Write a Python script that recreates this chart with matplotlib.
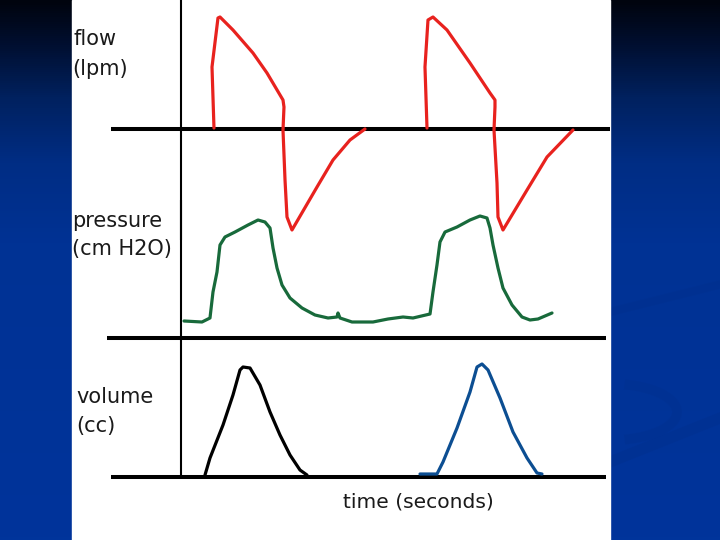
import numpy as np
import matplotlib
matplotlib.use("Agg")
import matplotlib.pyplot as plt
from matplotlib.colors import LinearSegmentedColormap
from matplotlib.patches import Rectangle

# ---------------- data (time in seconds, physical units) ----------------
flow1_t = [0.767, 0.721, 0.860, 0.907, 1.209, 1.674, 2.000, 2.372, 2.395,
           2.372, 2.419, 2.465, 2.581, 3.163, 3.535, 3.930, 4.279]
flow1_v = [0.5, 31, 55.5, 56, 49.5, 38, 28, 14.5, 11,
           -0.5, -25.5, -44, -50.5, -29, -15.5, -5.5, 0]

flow2_t = [5.721, 5.674, 5.744, 5.860, 6.186, 6.721, 7.186, 7.302, 7.302,
           7.279, 7.349, 7.372, 7.488, 8.047, 8.512, 9.116]
flow2_v = [0.5, 31, 54.5, 56, 49.5, 33, 18, 14.5, 11,
           -0.5, -27, -44, -50.5, -30.5, -14, -0.5]

press_t = [0.070, 0.488, 0.674, 0.744, 0.837, 0.907, 1.023, 1.256, 1.558, 1.791,
           1.953, 2.070, 2.140, 2.233, 2.349, 2.535, 2.814, 3.116, 3.419, 3.628,
           3.651, 3.698, 3.977, 4.465, 4.814, 5.163, 5.395, 5.791, 5.860, 5.953,
           6.023, 6.140, 6.419, 6.721, 6.953, 7.116, 7.186, 7.256, 7.372, 7.488,
           7.698, 7.930, 8.116, 8.302, 8.628]
press_v = [4.25, 4.0, 5.0, 11.5, 16.5, 23.25, 25.25, 26.5, 28.25, 29.5,
           29.0, 27.5, 22.5, 17.5, 13.25, 10.0, 7.5, 5.75, 5.0, 5.25,
           6.25, 5.0, 4.0, 4.0, 4.75, 5.25, 5.0, 6.0, 11.5, 18.25,
           24.0, 26.5, 27.75, 29.5, 30.5, 30.0, 27.5, 23.25, 17.5, 12.5,
           8.25, 5.25, 4.5, 4.75, 6.25]

vol1_t = [0.558, 0.674, 0.977, 1.209, 1.372, 1.442, 1.605, 1.837, 2.070,
          2.302, 2.535, 2.767, 2.930]
vol1_v = [10, 95, 260, 410, 535, 550, 545, 460, 325, 210, 110, 35, 10]

vol2_t = [5.558, 5.953, 6.093, 6.419, 6.721, 6.884, 7.000, 7.140, 7.419,
          7.721, 8.047, 8.279, 8.395]
vol2_v = [15, 15, 75, 245, 425, 550, 565, 535, 395, 225, 95, 20, 15]

labels = ["flow", "(lpm)", "pressure", "(cm H2O)", "volume", "(cc)"]
xlabel = "time (seconds)"

# ---------------- layout ----------------
W, H = 720, 540
T0_PX, PX_PER_S = 181, 43.0
AX_LEFT, AX_RIGHT = 107, 610

def t_of(px):
    return (px - T0_PX) / PX_PER_S

fig = plt.figure(figsize=(7.2, 5.4), dpi=100)

bg = fig.add_axes([0, 0, 1, 1], zorder=0)
grad = np.linspace(0, 1, 540).reshape(-1, 1)
cmap = LinearSegmentedColormap.from_list(
    "bg", [(0, "#00040e"), (0.08, "#000f30"), (0.18, "#00215f"),
           (0.3, "#002d84"), (0.45, "#003294"), (1, "#00349b")])
bg.imshow(grad, aspect="auto", cmap=cmap, extent=[0, 1, 0, 1], origin="upper")
# faint swooshes on right strip
sw = "#002f8a"
xs = np.linspace(610 / W, 1, 50)
bg.plot(xs, 1 - (312 - (xs - 610 / W) * W * 0.25) / H, color=sw, lw=6, alpha=0.35)
bg.plot(xs, 1 - (462 - (xs - 610 / W) * W * 0.4) / H, color=sw, lw=8, alpha=0.35)
th = np.linspace(-1.3, 1.3, 60)
bg.plot((612 + 65 * np.cos(th)) / W, 1 - (412 + 28 * np.sin(th)) / H,
        color=sw, lw=7, alpha=0.3)
bg.add_patch(Rectangle((72 / W, 0), (610 - 72) / W, 1, color="white", zorder=5))
bg.set_xlim(0, 1)
bg.set_ylim(0, 1)
bg.axis("off")


def make_ax(top_px, bottom_px, base_px, units_per_px):
    ax = fig.add_axes([AX_LEFT / W, 1 - bottom_px / H,
                       (AX_RIGHT - AX_LEFT) / W, (bottom_px - top_px) / H], zorder=2)
    ax.set_xlim(t_of(AX_LEFT), t_of(AX_RIGHT))
    ax.set_ylim((base_px - bottom_px) * units_per_px, (base_px - top_px) * units_per_px)
    ax.axis("off")
    ax.patch.set_alpha(0)
    return ax

ax_f = make_ax(0, 240, 129, 0.5)
ax_p = make_ax(200, 345, 338, 0.25)
ax_v = make_ax(345, 540, 477, 5.0)

LWB = 2.9
ax_f.axvline(0, color="black", lw=1.5)
ax_p.axvline(0, color="black", lw=1.5)
ax_v.axvline(0, ymin=(540 - 477) / 195, ymax=1, color="black", lw=1.5)
ax_f.hlines(0, t_of(111), t_of(610), color="black", lw=LWB)
ax_p.hlines(0, t_of(107), t_of(606), color="black", lw=LWB)
ax_v.hlines(0, t_of(111), t_of(606), color="black", lw=LWB)

kw = dict(lw=2.3, solid_joinstyle="round", solid_capstyle="round", clip_on=False, zorder=4)
ax_f.plot(flow1_t, flow1_v, color="#e8221e", **kw)
ax_f.plot(flow2_t, flow2_v, color="#e8221e", **kw)
ax_p.plot(press_t, press_v, color="#186a3b", **kw)
ax_v.plot(vol1_t, vol1_v, color="black", **kw)
ax_v.plot(vol2_t, vol2_v, color="#0c4e92", **kw)

txt_pos = [(73, 45), (72, 75), (72, 227), (72, 255), (76, 403), (76, 432)]
for s, (x, y) in zip(labels, txt_pos):
    fig.text(x / W, 1 - y / H, s, fontsize=15, color="#1a1a1a",
             ha="left", va="baseline", zorder=10)
fig.text(343 / W, 1 - 508 / H, xlabel, fontsize=14.6, color="#1a1a1a",
         ha="left", va="baseline", zorder=10)

fig.savefig("out.png", dpi=100)
